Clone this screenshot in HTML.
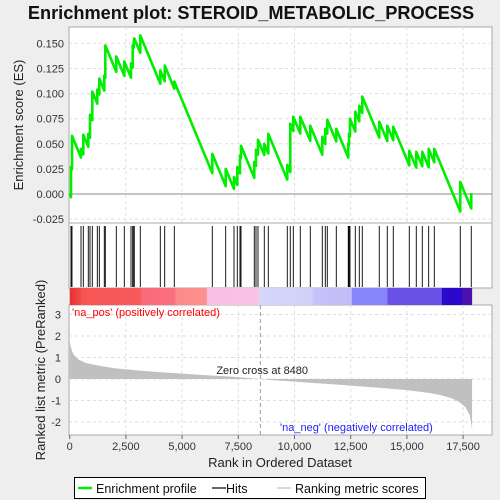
<!DOCTYPE html>
<html><head><meta charset="utf-8"><style>
body{margin:0;background:#eeeeee;}
svg{display:block;font-family:"Liberation Sans",sans-serif;}
</style></head><body>
<svg id="chart" width="500" height="500" viewBox="0 0 500 500">
<text x="251" y="19" text-anchor="middle" font-size="18.2" font-weight="bold" fill="#111">Enrichment plot: STEROID_METABOLIC_PROCESS</text>
<g id="g"></g>
</svg>
<script>
const hitRanks=[58,102,503,605,827,903,1005,1228,1317,1539,1584,2073,2429,2727,2802,2847,2873,3140,4030,4226,4653,6343,6939,7308,7455,7575,7620,8211,8287,8376,8656,8834,9679,9812,9946,10257,10702,11236,11369,11458,11859,12392,12424,12468,12704,12882,13015,13771,14127,14394,15106,15417,15684,15969,16218,17374,17863];
const esAfter=[0.027,0.058,0.045,0.059,0.060,0.079,0.102,0.104,0.115,0.118,0.148,0.137,0.132,0.130,0.148,0.152,0.155,0.158,0.123,0.128,0.112,0.040,0.025,0.017,0.027,0.038,0.048,0.032,0.044,0.054,0.050,0.060,0.029,0.070,0.077,0.077,0.068,0.057,0.065,0.074,0.065,0.050,0.060,0.075,0.082,0.088,0.097,0.072,0.068,0.067,0.043,0.042,0.042,0.045,0.045,0.012,0.001];
const missStep=0.000054;
const metricRanks=[0,50,100,200,400,700,1000,1500,2000,2500,3000,4000,5000,6000,7000,8000,8480,9000,10000,11000,12000,13000,14000,15000,16000,16500,17000,17300,17600,17800,17880,17900];
const metricValues=[1.75,1.5,1.3,1.1,0.9,0.75,0.68,0.58,0.5,0.45,0.4,0.32,0.25,0.18,0.12,0.04,0,-0.05,-0.12,-0.2,-0.27,-0.35,-0.43,-0.52,-0.65,-0.75,-0.9,-1.05,-1.3,-1.7,-2.2,-2.4];
const xTicks=[0,2500,5000,7500,10000,12500,15000,17500];
const esTicks=[0.150,0.125,0.100,0.075,0.050,0.025,0.000,-0.025];
const metricTicks=[3,2,1,0,-1,-2];
const zeroCross=8480;

const L=69,R=492,T1=27,B1=223,B2=288,B3=305,B4=435;
const X=r=>69.7+r*0.02248;
const YE=v=>194-v*1004;
const YM=v=>379-v*21.5;
const g=document.getElementById('g');
const NS='http://www.w3.org/2000/svg';
function el(tag,attrs,parent){const e=document.createElementNS(NS,tag);for(const k in attrs)e.setAttribute(k,attrs[k]);(parent||g).appendChild(e);return e;}

let p=el('rect',{x:L,y:T1,width:R-L,height:B1-T1,fill:'#fff',stroke:'#aaa'});


p=el('rect',{x:L,y:B1,width:R-L,height:B2-B1,fill:'#fff',stroke:'#aaa'});


p=el('rect',{x:L,y:B3,width:R-L,height:B4-B3,fill:'#fff',stroke:'#aaa'});



xTicks.forEach(t=>{
  if(t===0)return;
  let l=el('line',{x1:X(t),x2:X(t),y1:T1,y2:B1,stroke:'#ddd','stroke-dasharray':'3,3'});
  
  
  l=el('line',{x1:X(t),x2:X(t),y1:B3,y2:B4,stroke:'#ddd','stroke-dasharray':'3,3'});
  
  
});
esTicks.forEach(t=>{
  let l=el('line',{x1:L,x2:R,y1:YE(t),y2:YE(t),stroke:t===0?'#888':'#ddd','stroke-dasharray':t===0?'':'3,3'});
  
  
  let tx=el('text',{x:L-5,y:YE(t)+4,'text-anchor':'end','font-size':11,fill:'#333'});
  tx.textContent=t.toFixed(3);
  
  
});
metricTicks.forEach(t=>{
  let l=el('line',{x1:L,x2:R,y1:YM(t),y2:YM(t),stroke:'#ddd','stroke-dasharray':'3,3'});
  
  
  let tx=el('text',{x:L-8,y:YM(t)+4,'text-anchor':'end','font-size':11,fill:'#333'});
  tx.textContent=t;
  
  
});

const grad=el('linearGradient',{id:'cb',x1:0,x2:1,y1:0,y2:0},el('defs',{}));
[[0,'#e63030'],[0.026,'#f04848'],[0.03,'#f55555'],[0.175,'#f75a5a'],[0.18,'#fa6a78'],[0.26,'#fa7080'],[0.265,'#fc8a8a'],[0.34,'#fc9090'],[0.342,'#fbbde3'],[0.47,'#f8c4e6'],[0.472,'#d6d6fa'],[0.6,'#d0d0fa'],[0.61,'#c6c0f8'],[0.7,'#c2bcf8'],[1,'#8888f8']].forEach(s=>el('stop',{offset:s[0],'stop-color':s[1]},grad));
let cb=el('rect',{x:X(0),y:B2,width:X(17900)-X(0),height:B3-B2,fill:'url(#cb)'});


const cbBlue=[[12550,14130,'#8686fa'],[14130,16550,'#6a52e6'],[16550,17450,'#2a08cc'],[17450,17900,'#4a10b0']];
cbBlue.forEach(s=>{let r=el('rect',{x:X(s[0]),y:B2,width:X(s[1])-X(s[0]),height:B3-B2,fill:s[2]});

});

hitRanks.forEach(r=>{
  const l=el('line',{x1:X(r),x2:X(r),y1:B1+3,y2:B2-1,stroke:'#000','stroke-width':0.9});
  
  
});

let d='M'+X(metricRanks[0])+','+YM(0);
metricRanks.forEach((r,i)=>{d+=' L'+X(r)+','+YM(metricValues[i]);});
d+=' L'+X(metricRanks[metricRanks.length-1])+','+YM(0)+' Z';
let ma=el('path',{d:d,fill:'#c0c0c0'});



let zc=el('line',{x1:X(zeroCross),x2:X(zeroCross),y1:B3,y2:B4,stroke:'#999','stroke-dasharray':'4,3'});


let zt=el('text',{x:X(zeroCross)-44,y:374,'font-size':11,fill:'#222'});
zt.textContent='Zero cross at '+zeroCross;


let pt=el('text',{x:72,y:316,'font-size':11,fill:'#f00'});
pt.textContent="'na_pos' (positively correlated)";


let nt=el('text',{x:280,y:431,'font-size':11,fill:'#22f'});
nt.textContent="'na_neg' (negatively correlated)";



let pts=[[X(0),YE(0)]];let prevR=0,prevV=0;
hitRanks.forEach((r,i)=>{const before=prevV-missStep*(r-prevR);pts.push([X(r),YE(before)]);pts.push([X(r),YE(esAfter[i])]);prevR=r;prevV=esAfter[i];});
let es=el('polyline',{points:pts.map(q=>q.join(',')).join(' '),fill:'none',stroke:'#00ee00','stroke-width':2.6,'stroke-linejoin':'round'});



xTicks.forEach(t=>{
  let l=el('line',{x1:X(t),x2:X(t),y1:B4,y2:B4+4,stroke:'#666'});
  
  
  let tx=el('text',{x:X(t),y:B4+15,'text-anchor':'middle','font-size':11,fill:'#333'});
  tx.textContent=t.toLocaleString('en-US');
  
  
});
let xa=el('text',{x:280,y:467,'text-anchor':'middle','font-size':13,fill:'#222'});
xa.textContent='Rank in Ordered Dataset';


let ya=el('text',{x:0,y:0,'text-anchor':'middle','font-size':13,fill:'#222',transform:'translate(23,125) rotate(-90)'});
ya.textContent='Enrichment score (ES)';


let yb=el('text',{x:0,y:0,'text-anchor':'middle','font-size':13,fill:'#222',transform:'translate(45,370) rotate(-90)'});
yb.textContent='Ranked list metric (PreRanked)';



let lg=el('rect',{x:74.5,y:477.5,width:351,height:21,fill:'#fff',stroke:'#000'});


const legendItems=[[78,'#00ee00','Enrichment profile',96],[212,'#000','Hits',226],[277,'#c0c0c0','Ranking metric scores',295]];
legendItems.forEach(it=>{
  let l=el('line',{x1:it[0],x2:it[0]+14,y1:488,y2:488,stroke:it[1],'stroke-width':it[1]==='#00ee00'?2.5:1.2});
  
  
  let tx=el('text',{x:it[3],y:493,'font-size':12.5,fill:'#111'});
  tx.textContent=it[2];
  
  
});
</script>
</body></html>
